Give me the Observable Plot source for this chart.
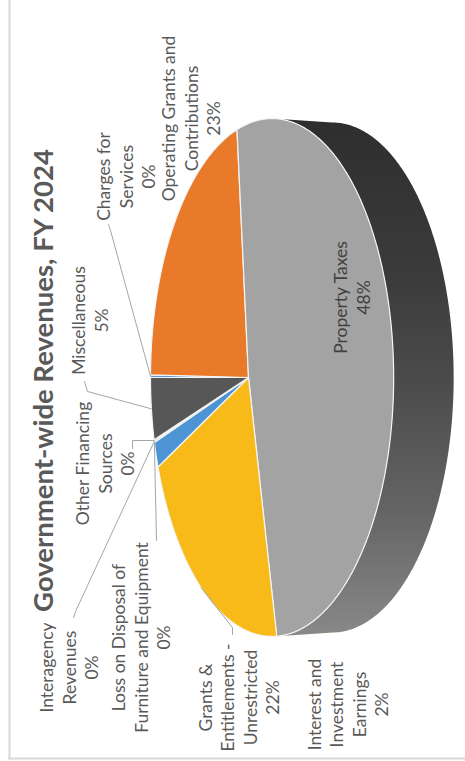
<!DOCTYPE html>
<html><head><meta charset="utf-8">
<script src="https://cdn.jsdelivr.net/npm/d3@7"></script>
<script src="https://cdn.jsdelivr.net/npm/@observablehq/plot@0.6"></script>
<style>html,body{margin:0;padding:0;background:#fff} svg{display:block}</style>
</head><body><div id="chart"></div>
<script>
// ---------- data ----------
const categories = [
  "Charges for Services",
  "Operating Grants and Contributions",
  "Property Taxes",
  "Grants & Entitlements - Unrestricted",
  "Interest and Investment Earnings",
  "Loss on Disposal of Furniture and Equipment",
  "Interagency Revenues",
  "Other Financing Sources",
  "Miscellaneous"
];
const shares = [0.2, 23.2, 47.9, 21.9, 1.9, 0.05, 0.05, 0.1, 4.7];
const labelNames = [
  "Charges for\nServices",
  "Operating Grants and\nContributions",
  "Property Taxes",
  "Grants &\nEntitlements -\nUnrestricted",
  "Interest and\nInvestment\nEarnings",
  "Loss on Disposal of\nFurniture and Equipment",
  "Interagency\nRevenues",
  "Other Financing\nSources",
  "Miscellaneous"
];
const colors = ["#5B9BD5", "#E97A2A", "#A3A3A3", "#F7BA18", "#4D94D4", "#70AD47", "#255E91", "#9E480E", "#575757"];
const title = "Government-wide Revenues, FY 2024";

// ---------- layout (not data) ----------
const W = 465, H = 761;
const G = {cx: 248, cy: 377, rx: 117, ry: 254, p: 0.194, depth: 60, ryBack: 0.985, start: 0};
// label block centres [x, y]
const labelPos = [[125, 176], [190, 118], [351, 297], [238, 697], [347, 704], [140, 637], [68, 667], [104, 463], [89, 320]];
// leader polylines (label side), slice end point is computed
const leaderStart = {
  0: [[108, 224], [110, 230]],
  8: [[84, 381], [87, 391]],
  7: [[132, 448], [132, 440]],
  6: [[73, 617], [75, 611]],
  5: [[156, 540]],
  3: [[232, 634], [232, 627]]
};

function proj(deg, back = false) {
  const t = (deg + G.start) * Math.PI / 180;
  const c = -Math.cos(t), s = -Math.sin(t);
  const f = 1 / (1 - G.p * c);
  return [G.cx + (back ? G.depth : 0) + G.rx * c * f, G.cy + G.ry * (back ? G.ryBack : 1) * s * f];
}

const total = d3.sum(shares);
let acc = 0;
const slices = shares.map((v, i) => {
  const a0 = acc / total * 360; acc += v; const a1 = acc / total * 360;
  return {i, a0, a1, mid: (a0 + a1) / 2, color: colors[i]};
});

function arcPts(a0, a1, back) {
  const n = Math.max(2, Math.ceil((a1 - a0) / 0.5));
  return d3.range(n + 1).map(k => proj(a0 + (a1 - a0) * k / n, back));
}

// top faces
const topPolys = slices.filter(s => s.a1 - s.a0 > 0.01).map(s => ({
  color: s.color,
  pts: [[G.cx, G.cy], ...arcPts(s.a0, s.a1, false)]
}));

// visible side range
const thTop = Math.acos(-G.p) * 180 / Math.PI, thBot = 360 - thTop;
const sidePolys = [];
slices.forEach(s => {
  const a0 = Math.max(s.a0, thTop), a1 = Math.min(s.a1, thBot);
  if (a1 - a0 <= 0) return;
  const fill = s.i === 2 ? "url(#sideGrad)" : d3.color(s.color).darker(0.7).formatHex();
  sidePolys.push({fill, pts: [...arcPts(a0, a1, false), ...arcPts(a0, a1, true).reverse()]});
});

// labels
const labels = slices.map(s => ({
  x: labelPos[s.i][0], y: labelPos[s.i][1],
  text: labelNames[s.i] + "\n" + Math.round(shares[s.i] / total * 100) + "%",
  fill: s.i === 2 ? "#404040" : "#595959"
}));

// leader lines
const leaders = Object.entries(leaderStart).map(([k, pts]) => {
  const s = slices[+k];
  return [...pts, proj(s.mid)];
});

function defsMark() {
  const ns = "http://www.w3.org/2000/svg";
  const defs = document.createElementNS(ns, "defs");
  const lg = document.createElementNS(ns, "linearGradient");
  lg.setAttribute("id", "sideGrad");
  lg.setAttribute("gradientUnits", "userSpaceOnUse");
  lg.setAttribute("x1", 0); lg.setAttribute("y1", 118);
  lg.setAttribute("x2", 0); lg.setAttribute("y2", 640);
  [[0, "#2e2e2e"], [0.3, "#3b3b3b"], [0.5, "#4b4b4b"], [0.75, "#646464"], [1, "#8a8a8a"]].forEach(([o, c]) => {
    const st = document.createElementNS(ns, "stop");
    st.setAttribute("offset", o); st.setAttribute("stop-color", c);
    lg.appendChild(st);
  });
  defs.appendChild(lg);
  return defs;
}

const marks = [
  defsMark,
  Plot.ruleX([9], {y1: 0, y2: 758, stroke: "#d9d9d9", strokeWidth: 2}),
  Plot.ruleY([758], {x1: 8, x2: W, stroke: "#d9d9d9", strokeWidth: 2}),
  ...sidePolys.map(p => Plot.line(p.pts, {x: d => d[0], y: d => d[1], fill: p.fill, stroke: "none", curve: "linear-closed"})),
  ...topPolys.map(p => Plot.line(p.pts, {x: d => d[0], y: d => d[1], fill: p.color, stroke: "#f4f4f4", strokeWidth: 1.2, strokeLinejoin: "round", curve: "linear-closed"})),
  ...leaders.map(l => Plot.line(l, {x: d => d[0], y: d => d[1], stroke: "#a6a6a6", strokeWidth: 1})),
  Plot.text(labels, {x: "x", y: "y", text: "text", fill: "fill", rotate: -90, fontSize: 17.5, lineHeight: 22.5 / 17.5, textAnchor: "middle", lineAnchor: "middle"}),
  Plot.text([title], {x: () => 44, y: () => 380, text: d => d, rotate: -90, fontSize: 27.5, fontWeight: "bold", fill: "#595959", textAnchor: "middle", lineAnchor: "middle"})
];

const chart = Plot.plot({
  width: W, height: H, margin: 0,
  x: {domain: [0, W], range: [0, W], axis: null},
  y: {domain: [0, H], range: [0, H], axis: null},
  style: {fontFamily: "Lato, 'Open Sans', sans-serif", background: "#fff"},
  marks
});
document.getElementById("chart").appendChild(chart);
</script>
</body></html>
